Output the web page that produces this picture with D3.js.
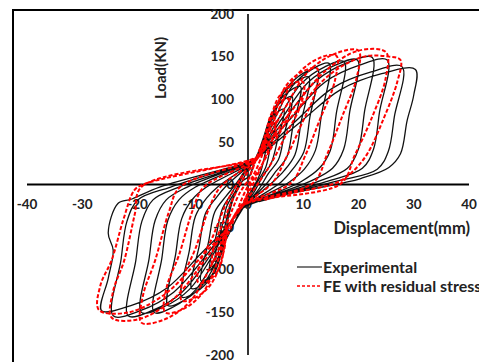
<!DOCTYPE html>
<html>
<head>
<meta charset="utf-8">
<script src="https://cdn.jsdelivr.net/npm/d3@7"></script>
<style>
  body { margin: 0; background: #fff; }
  svg text { font-family: Lato, "Open Sans", sans-serif; font-weight: bold; fill: #222; }
</style>
</head>
<body>
<div id="chart"></div>
<script>
// tick values
var xTicks = [-40, -30, -20, -10, 0, 10, 20, 30, 40];
var yTicks = [-200, -150, -100, -50, 0, 50, 100, 150, 200];
var seriesNames = ["Experimental", "FE with residual stress"];

// experimental cycles, [displacement mm, load kN]
var expLoops = [
  [[0.3,10],[1.3,28],[2.4,45],[3.5,55],[2.9,30],[2.2,13],[1,-3],[-1,-24],[-2.4,-44],[-4,-60],[-3.4,-34],[-2.5,-14],[-1,4],[0.3,10]],
  [[1.2,28],[2.3,44],[3.6,62],[5,72],[4,42],[3.2,20],[1.8,4],[0,-18],[-2.2,-42],[-3.6,-60],[-5,-76],[-4,-44],[-3.1,-21],[-1.6,-3],[0,17],[1.2,28]],
  [[1.5,30],[2.5,48],[3.8,70],[5.2,84],[6.5,88],[5.3,51],[4.2,25],[2.6,9],[1,-10],[-1,-28],[-3.5,-48],[-4.2,-67],[-5,-84],[-6,-90],[-4.8,-52],[-3.8,-25],[-2.3,-8],[-0.6,14],[1.5,30]],
  [[1.5,30],[2.9,57],[4.4,84],[6.4,99],[8,103],[6.6,60],[5.5,29],[3.7,13],[2,-5],[-1,-28],[-3.5,-48],[-4.3,-66],[-5.5,-88],[-7,-101],[-5.7,-58],[-4.6,-28],[-3,-11],[-0.8,14],[1.5,30]],
  [[1.5,30],[3.4,63],[5.2,94],[7.6,110],[9.5,115],[8.1,67],[7,32],[5,15],[3.5,2],[-1,-28],[-3.5,-48],[-4.4,-66],[-5.4,-93],[-6.8,-108],[-8.5,-113],[-7.1,-66],[-6,-32],[-4,-14],[-2.5,-2],[0,20],[1.5,30]],
  [[1.5,30],[3.8,69],[6,103],[8.8,121],[11,126],[9.6,73],[8.5,35],[6.5,16],[4.5,3],[-1,-28],[-3.5,-48],[-4.6,-67],[-5.8,-100],[-8.2,-117],[-10.2,-122],[-8.8,-71],[-7.7,-34],[-5.7,-15],[-4,-2],[0,21],[1.5,30]],
  [[1.5,30],[4.3,75],[6.9,112],[10.1,131],[12.6,136],[11.2,79],[10.1,38],[8.1,18],[6,3],[-1,-28],[-3.5,-48],[-4.6,-73],[-6.6,-108],[-9.6,-127],[-12,-132],[-10.6,-77],[-9.5,-37],[-7.5,-16],[-5.5,-3],[0,22],[1.5,30]],
  [[1.5,30],[4.9,78],[8.1,116],[11.8,136],[14.7,142],[13.3,82],[12.2,40],[10.2,18],[7.5,3],[-1,-28],[-3.5,-48],[-4.9,-78],[-8,-116],[-11.6,-136],[-14.5,-142],[-13.1,-82],[-12,-40],[-10,-17],[-7.5,-3],[0,23],[1.5,30]],
  [[1.5,30],[5.7,79],[9.6,118],[13.9,138],[17.4,144],[16,84],[14.9,40],[12.9,19],[9.5,3],[-1,-28],[-3.5,-48],[-5.6,-82],[-9.4,-123],[-13.6,-144],[-17,-150],[-15.6,-87],[-14.5,-42],[-12.5,-18],[-9.5,-3],[0,24],[1.5,30]],
  [[1.5,30],[6.4,80],[10.9,120],[15.8,140],[19.8,146],[18.4,85],[17.3,41],[15.3,19],[11,3],[-1,-28],[-3.5,-48],[-6.3,-82],[-10.6,-123],[-15.4,-144],[-19.3,-150],[-17.9,-87],[-16.8,-42],[-14.8,-18],[-11,-3],[0,25],[1.5,30]],
  [[1.5,30],[7.3,82],[12.4,122],[18,143],[22.5,149],[21.1,86],[20,42],[18,19],[12.5,3],[-1,-28],[-3.5,-48],[-7,-85],[-11.9,-126],[-17.4,-148],[-21.7,-154],[-20.3,-89],[-19.2,-43],[-17.2,-18],[-12.5,-3],[0,25],[1.5,30]],
  [[1.5,30],[8.1,80],[13.9,120],[20.2,140],[25.2,146],[23.8,85],[22.7,41],[20.7,19],[14,3],[-1,-28],[-3.5,-48],[-7.8,-85],[-13.4,-126],[-19.5,-148],[-24.4,-154],[-23,-89],[-21.9,-43],[-19.9,-18],[-14,-3],[0,26],[1.5,30]],
  [[1.5,30],[8.9,76],[15.3,113],[22.3,132],[27.9,138],[26.5,80],[25.4,39],[23.4,18],[15.5,3],[-1,-28],[-3.5,-48],[-8.5,-81],[-14.6,-121],[-21.2,-142],[-26.5,-148],[-25.3,-110],[-24.4,-77],[-25.3,-57],[-23.5,-22],[-21,-17],[-16,-3],[0,26],[1.5,30]],
  [[1.5,30],[9.6,74],[16.7,111],[24.2,130],[30.3,135],[30,105],[28.8,75],[27.6,36],[25.5,20],[20.4,7],[17.3,2],[8,-10],[2,-20]]
];

// FE model cycles
var feLoops = [
  [[0.5,12],[1.5,30],[2.3,44],[3,50],[2.8,40],[1.8,22],[0.5,5],[-1,-15],[-2.5,-40],[-3.6,-58],[-4.5,-70],[-4.3,-56],[-3,-32],[-1.5,-10],[0,5],[0.5,12]],
  [[1.5,30],[2.8,48],[3.9,64],[5,75],[4.8,60],[3.5,38],[2,15],[0.5,-5],[-1.5,-28],[-3.6,-50],[-4.6,-68],[-5.6,-84],[-6.5,-92],[-6.2,-74],[-4.6,-46],[-2.8,-18],[-1,5],[2,33]],
  [[2,33],[3.1,58],[4.3,84],[6,98],[7.5,100],[7.2,80],[4.8,50],[2.4,22],[0.6,2],[-1,-25],[-3.6,-50],[-4.2,-70],[-5.2,-98],[-7.2,-113],[-9,-115],[-8.7,-92],[-6.5,-63],[-4,-23],[-2,0],[0,20],[2,33]],
  [[2,33],[3.8,70],[5.5,102],[8,118],[10,120],[9.7,96],[7,60],[4.3,26],[1.8,1],[-1,-25],[-3.6,-50],[-4.4,-79],[-6.6,-116],[-9.6,-133],[-12,-136],[-11.7,-109],[-9.5,-75],[-7,-27],[-5,-3],[0,22],[2,33]],
  [[2,33],[4.6,79],[6.9,116],[10,133],[12.5,136],[12.2,109],[9.5,68],[6.8,30],[4.3,1],[-1,-25],[-3.6,-50],[-5.3,-87],[-8.3,-128],[-12,-147],[-15,-150],[-14.7,-120],[-12.5,-83],[-10,-30],[-8,-3],[0,24],[2,33]],
  [[2,33],[5.6,88],[8.8,128],[12.8,148],[16,151],[15.7,121],[13,76],[10.3,33],[7.8,2],[-1,-25],[-3.6,-50],[-6.6,-94],[-10.6,-138],[-15.4,-159],[-19.3,-162],[-19,-130],[-16.8,-89],[-14.3,-32],[-12.3,-3],[0,26],[2,33]],
  [[2,33],[6.8,91],[11,133],[16,154],[20,157],[19.7,126],[17,79],[14.3,35],[11.8,2],[-1,-25],[-3.6,-50],[-8.2,-92],[-13.6,-135],[-19.8,-158],[-24.7,-156],[-24.4,-125],[-22.4,-89],[-20.5,-35],[-19.3,-3],[0,27],[2,33]],
  [[2,33],[8.3,90],[13.8,132],[20,157],[25,155],[24.9,124],[22.2,75],[19.3,34],[16.8,1],[-1,-25],[-3.6,-50],[-8.9,-88],[-14.9,-128],[-21.6,-150],[-27,-147],[-26.7,-118],[-24.7,-89],[-22.5,-40],[-20.6,-7],[-19,0],[0,28],[2,33]],
  [[2,33],[9,88],[15,130],[21,150],[25.5,150],[27.6,146],[27,120],[24.4,75],[21.5,35],[18.6,13],[16,2],[8,-10],[3,-18]]
];

var W = 479, H = 362;
var svg = d3.select("#chart").append("svg")
  .attr("width", W)
  .attr("height", H);

// chart frame (right and bottom run off the picture)
svg.append("rect")
  .attr("x", 13).attr("y", 10)
  .attr("width", 500).attr("height", 400)
  .style("fill", "none")
  .style("stroke", "#000")
  .style("stroke-width", "2px");

var x = d3.scaleLinear().domain([-40, 40]).range([27, 469]);
var y = d3.scaleLinear().domain([-200, 200]).range([355, 14]);

// tick labels
svg.append("g").selectAll("text")
  .data(xTicks)
  .enter().append("text")
  .attr("x", d => x(d))
  .attr("y", y(0) + 20)
  .attr("dy", "0.35em")
  .attr("text-anchor", "middle")
  .style("font-size", "13.5px")
  .text(d => d);

svg.append("g").selectAll("text")
  .data(yTicks)
  .enter().append("text")
  .attr("x", 234)
  .attr("y", d => y(d))
  .attr("dy", "0.35em")
  .attr("text-anchor", "end")
  .style("font-size", "13.5px")
  .text(d => d);

// axis titles
svg.append("text")
  .attr("x", 470)
  .attr("y", 228)
  .attr("dy", "0.35em")
  .attr("text-anchor", "end")
  .style("font-size", "16.5px")
  .text("Displacement(mm)");

svg.append("text")
  .attr("transform", "translate(161,68) rotate(-90)")
  .attr("dy", "0.35em")
  .attr("text-anchor", "middle")
  .style("font-size", "15px")
  .text("Load(KN)");

// axis lines crossing at the origin
svg.append("line")
  .attr("x1", x(-40)).attr("x2", x(40))
  .attr("y1", y(0)).attr("y2", y(0))
  .style("stroke", "#000").style("stroke-width", "2px");
svg.append("line")
  .attr("x1", x(0)).attr("x2", x(0))
  .attr("y1", y(200)).attr("y2", y(-200))
  .style("stroke", "#333").style("stroke-width", "2px");

var line = d3.line()
  .x(d => x(d[0]))
  .y(d => y(d[1]))
  .curve(d3.curveCatmullRom.alpha(0.5));

svg.append("path")
  .datum(d3.merge(expLoops))
  .attr("d", line)
  .style("fill", "none")
  .style("stroke", "#111")
  .style("stroke-width", "1.3px");

svg.append("path")
  .datum(d3.merge(feLoops))
  .attr("d", line)
  .style("fill", "none")
  .style("stroke", "#ff0000")
  .style("stroke-width", "2px")
  .style("stroke-dasharray", "4,2");

// legend
var legend = svg.append("g");
var legendRows = [
  { name: seriesNames[0], color: "#333", dash: null, yy: 267 },
  { name: seriesNames[1], color: "#ff0000", dash: "3,2", yy: 286 }
];
legendRows.forEach(function(r) {
  legend.append("line")
    .attr("x1", 297).attr("x2", 322)
    .attr("y1", r.yy).attr("y2", r.yy)
    .style("stroke", r.color)
    .style("stroke-width", r.dash ? "1.5px" : "1.3px")
    .style("stroke-dasharray", r.dash);
  legend.append("text")
    .attr("x", 323)
    .attr("y", r.yy)
    .attr("dy", "0.35em")
    .style("font-size", "16px")
    .text(r.name);
});
</script>
</body>
</html>
